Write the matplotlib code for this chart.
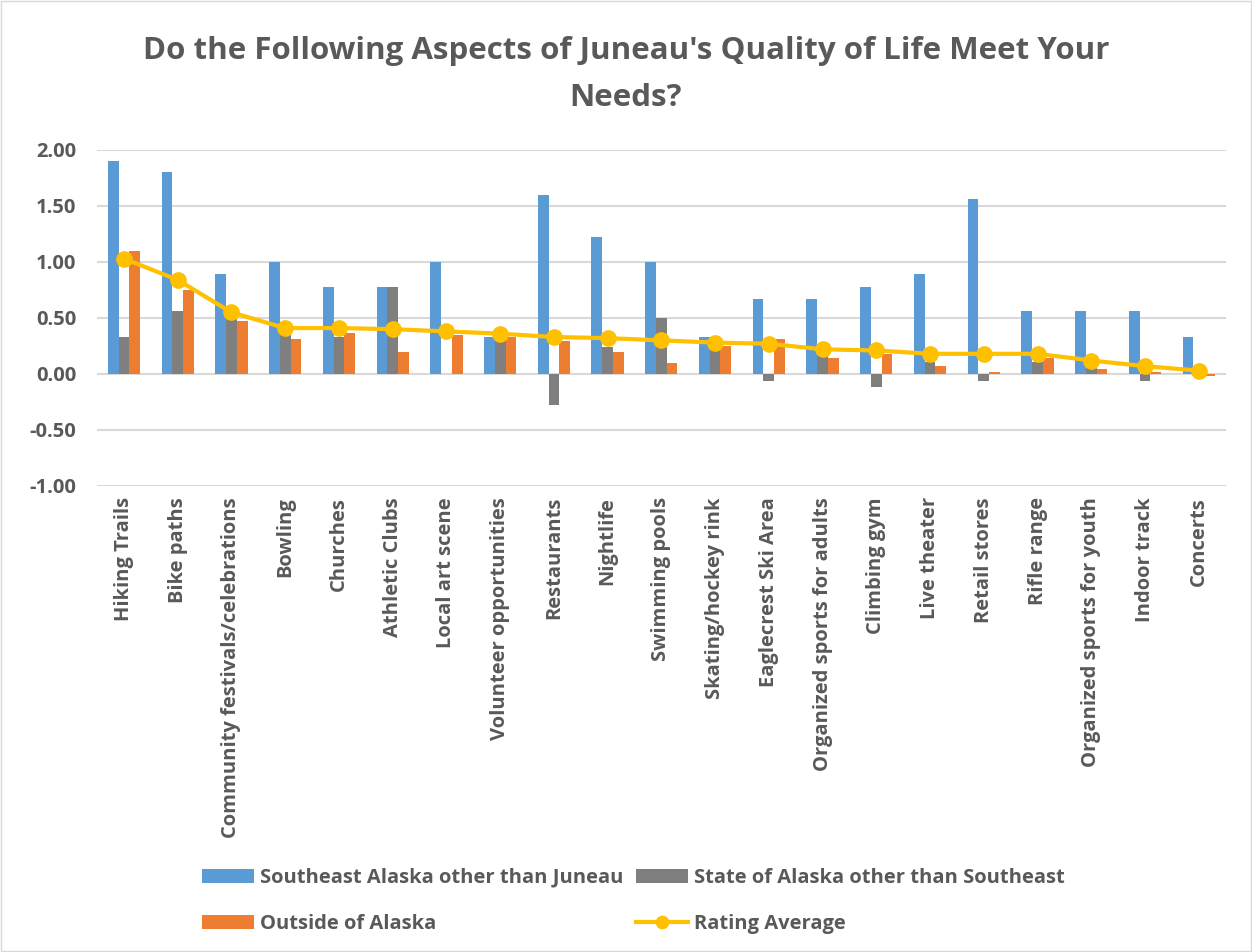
import matplotlib.pyplot as plt
import matplotlib.patches as mpatches
import numpy as np

categories = ['Hiking Trails', 'Bike paths', 'Community festivals/celebrations', 'Bowling',
              'Churches', 'Athletic Clubs', 'Local art scene', 'Volunteer opportunities',
              'Restaurants', 'Nightlife', 'Swimming pools', 'Skating/hockey rink',
              'Eaglecrest Ski Area', 'Organized sports for adults', 'Climbing gym',
              'Live theater', 'Retail stores', 'Rifle range', 'Organized sports for youth',
              'Indoor track', 'Concerts']

southeast = [1.90, 1.80, 0.89, 1.00, 0.78, 0.78, 1.00, 0.33, 1.60, 1.22, 1.00,
             0.33, 0.67, 0.67, 0.78, 0.89, 1.56, 0.56, 0.56, 0.56, 0.33]
state = [0.33, 0.56, 0.49, 0.37, 0.33, 0.78, 0.00, 0.33, -0.28, 0.24, 0.50,
         0.22, -0.06, 0.18, -0.12, 0.11, -0.06, 0.11, 0.07, -0.06, 0.00]
outside = [1.10, 0.75, 0.47, 0.31, 0.37, 0.20, 0.35, 0.33, 0.29, 0.20, 0.10,
           0.25, 0.31, 0.14, 0.18, 0.07, 0.02, 0.14, 0.04, 0.02, -0.02]
rating = [1.03, 0.84, 0.55, 0.41, 0.41, 0.40, 0.38, 0.36, 0.33, 0.32, 0.30,
          0.28, 0.27, 0.22, 0.21, 0.18, 0.18, 0.18, 0.12, 0.07, 0.03]

yticks = [-1.0, -0.5, 0.0, 0.5, 1.0, 1.5, 2.0]

text_color = '#595959'
plt.rcParams['font.family'] = ['Open Sans', 'DejaVu Sans']
plt.rcParams['font.weight'] = 'bold'

fig = plt.figure(figsize=(12.52, 9.52), dpi=100)
ax = fig.add_axes([0.0775, 0.4895, 0.9015, 0.353])

x = np.arange(len(categories))
w = 0.2
b1 = ax.bar(x - w, southeast, w, color='#5B9BD5', zorder=2)
b2 = ax.bar(x, state, w, color='#7F7F7F', zorder=2)
b3 = ax.bar(x + w, outside, w, color='#ED7D31', zorder=2)
ln, = ax.plot(x, rating, color='#FFC000', lw=3, marker='o', markersize=11, zorder=3)

ax.set_xlim(-0.5, len(categories) - 0.5)
ax.set_ylim(-1.0, 2.0)
ax.set_yticks(yticks)
ax.set_yticklabels(['%.2f' % v for v in yticks])
ax.yaxis.grid(True, color='#D9D9D9', lw=1.5, zorder=0)
ax.set_axisbelow(True)
for s in ax.spines.values():
    s.set_visible(False)
ax.tick_params(axis='both', length=0, labelsize=14.5, colors=text_color)
ax.tick_params(axis='y', pad=15)
ax.tick_params(axis='x', pad=8)
ax.set_xticks(x)
ax.set_xticklabels(categories, rotation=90)

fig.suptitle("Do the Following Aspects of Juneau's Quality of Life Meet Your\nNeeds?",
             fontsize=22.5, fontweight='bold', color=text_color, y=0.962, linespacing=1.75)

# legend filled column-wise, so order gives rows: SE, State / Outside, Rating
handles = [b1, b3, b2, ln]
labels = ['Southeast Alaska other than Juneau', 'Outside of Alaska',
          'State of Alaska other than Southeast', 'Rating Average']
fig.legend(handles, labels, ncol=2, loc='center', bbox_to_anchor=(0.506, 0.0535), frameon=False,
           fontsize=14.5, handlelength=2.6, columnspacing=0.6, handletextpad=0.3,
           labelspacing=1.3, labelcolor=text_color, markerscale=0.8)

fig.patches.append(mpatches.Rectangle((0.001, 0.001), 0.998, 0.998, transform=fig.transFigure,
                                      fill=False, edgecolor='#D9D9D9', lw=1))

fig.savefig('out.png', dpi=100)
